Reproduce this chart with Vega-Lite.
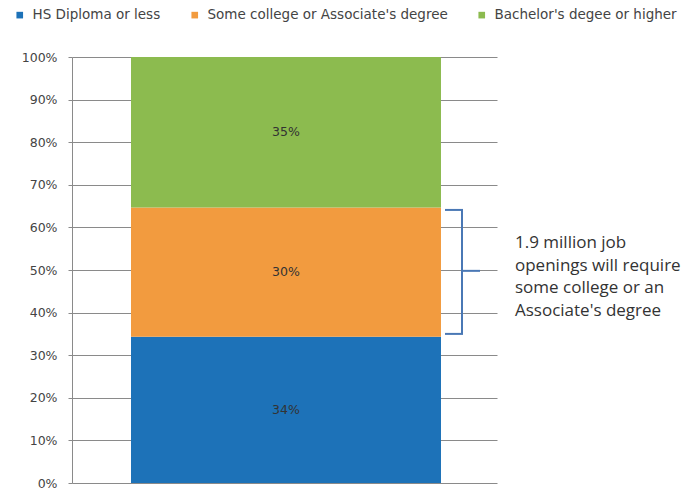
{
  "$schema": "https://vega.github.io/schema/vega-lite/v6.json",
  "width": 425,
  "height": 426,
  "autosize": "none",
  "padding": {"left": 72, "top": 57, "right": 201, "bottom": 8},
  "background": "white",
  "config": {
    "font": "DejaVu Sans",
    "view": {"stroke": null},
    "legend": {
      "orient": "none",
      "legendX": -59,
      "legendY": -49,
      "direction": "horizontal",
      "columnPadding": 27,
      "symbolType": "square",
      "symbolSize": 44,
      "symbolStrokeWidth": 0,
      "labelFontSize": 13.5,
      "labelFont": "DejaVu Sans",
      "labelColor": "#444444",
      "labelOffset": 6,
      "labelLimit": 500,
      "title": null
    }
  },
  "datasets": {
    "shares": [
      {"group": "All", "level": "HS Diploma or less", "rank": 1, "share": 0.34},
      {"group": "All", "level": "Some college or Associate's degree", "rank": 2, "share": 0.30},
      {"group": "All", "level": "Bachelor's degee or higher", "rank": 3, "share": 0.35}
    ],
    "note": [
      {"group": "All", "text": ["1.9 million job", "openings will require", "some college or an", "Associate's degree"]}
    ]
  },
  "layer": [
    {
      "data": {"name": "shares"},
      "mark": {"type": "bar"},
      "encoding": {
        "x": {"field": "group", "type": "nominal", "axis": null,
              "scale": {"paddingInner": 0, "paddingOuter": 0.1855, "align": 0.513}},
        "y": {"field": "share", "type": "quantitative", "stack": "normalize",
              "scale": {"domain": [0, 1]},
              "axis": {"title": null, "format": ".0%",
                       "values": [0, 0.1, 0.2, 0.3, 0.4, 0.5, 0.6, 0.7, 0.8, 0.9, 1],
                       "grid": true, "gridColor": "#8a8a8a", "gridWidth": 1,
                       "domainColor": "#8a8a8a", "tickColor": "#8a8a8a", "tickSize": 4,
                       "labelFont": "DejaVu Sans",
                       "labelFontSize": 12.5, "labelColor": "#444444", "labelPadding": 11}},
        "color": {"field": "level", "type": "nominal",
                  "scale": {"domain": ["HS Diploma or less", "Some college or Associate's degree", "Bachelor's degee or higher"],
                            "range": ["#1d72b8", "#f29b3f", "#8cbb4f"]}},
        "order": {"field": "rank", "type": "quantitative"}
      }
    },
    {
      "data": {"name": "shares"},
      "transform": [
        {"stack": "share", "groupby": ["group"], "sort": [{"field": "rank"}], "offset": "normalize", "as": ["y0", "y1"]},
        {"calculate": "(datum.y0 + datum.y1) / 2", "as": "mid"}
      ],
      "mark": {"type": "text", "font": "DejaVu Sans", "fontSize": 12.5, "color": "#333333", "baseline": "middle"},
      "encoding": {
        "x": {"field": "group", "type": "nominal"},
        "y": {"field": "mid", "type": "quantitative"},
        "text": {"field": "share", "type": "quantitative", "format": ".0%"}
      }
    },
    {
      "data": {"name": "note"},
      "mark": {"type": "rule", "xOffset": 176, "color": "#4a78b5", "strokeWidth": 2},
      "encoding": {
        "x": {"field": "group", "type": "nominal"},
        "y": {"datum": 0.35, "type": "quantitative"},
        "y2": {"datum": 0.641}
      }
    },
    {
      "data": {"name": "note"},
      "mark": {"type": "rule", "xOffset": 159, "x2Offset": 177, "color": "#4a78b5", "strokeWidth": 2},
      "encoding": {
        "x": {"field": "group", "type": "nominal"},
        "x2": {"field": "group"},
        "y": {"datum": 0.641, "type": "quantitative"}
      }
    },
    {
      "data": {"name": "note"},
      "mark": {"type": "rule", "xOffset": 159, "x2Offset": 177, "color": "#4a78b5", "strokeWidth": 2},
      "encoding": {
        "x": {"field": "group", "type": "nominal"},
        "x2": {"field": "group"},
        "y": {"datum": 0.35, "type": "quantitative"}
      }
    },
    {
      "data": {"name": "note"},
      "mark": {"type": "rule", "xOffset": 176, "x2Offset": 194, "color": "#4a78b5", "strokeWidth": 2},
      "encoding": {
        "x": {"field": "group", "type": "nominal"},
        "x2": {"field": "group"},
        "y": {"datum": 0.498, "type": "quantitative"}
      }
    },
    {
      "data": {"name": "note"},
      "mark": {"type": "text", "align": "left", "baseline": "middle", "dx": 229,
               "font": "Open Sans", "fontSize": 17, "lineHeight": 22.5, "color": "#333333"},
      "encoding": {
        "x": {"field": "group", "type": "nominal"},
        "y": {"datum": 0.563, "type": "quantitative"},
        "text": {"field": "text"}
      }
    }
  ]
}
